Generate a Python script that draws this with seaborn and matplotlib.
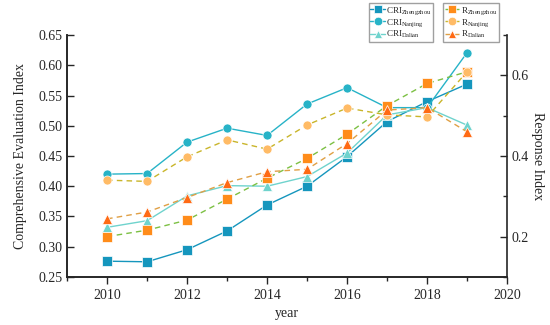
import matplotlib
matplotlib.use("Agg")
import matplotlib.pyplot as plt
import seaborn as sns
from matplotlib.ticker import MultipleLocator

# values
years = [2010, 2011, 2012, 2013, 2014, 2015, 2016, 2017, 2018, 2019]
cri_zhengzhou = [0.276, 0.275, 0.295, 0.326, 0.369, 0.400, 0.449, 0.507, 0.540, 0.569]
cri_nanjing = [0.420, 0.421, 0.473, 0.496, 0.484, 0.536, 0.563, 0.530, 0.530, 0.621]
cri_dalian = [0.332, 0.343, 0.384, 0.401, 0.400, 0.416, 0.455, 0.518, 0.530, 0.501]
r_zhengzhou = [0.200, 0.216, 0.241, 0.293, 0.345, 0.394, 0.454, 0.525, 0.580, 0.609]
r_nanjing = [0.340, 0.337, 0.398, 0.440, 0.417, 0.477, 0.519, 0.502, 0.497, 0.609]
r_dalian = [0.244, 0.261, 0.297, 0.334, 0.361, 0.367, 0.431, 0.514, 0.520, 0.460]

sns.set_style("ticks")
plt.rcParams["font.family"] = ["Liberation Serif", "DejaVu Serif"]
plt.rcParams["mathtext.default"] = "regular"

fig = plt.figure(figsize=(5.5, 3.25), dpi=100)
ax = fig.add_axes([0.122, 0.148, 0.8, 0.744])
ax2 = ax.twinx()

# CRI series, solid lines on the left axis
cri = [
    (cri_zhengzhou, "CRI$_{Zhengzhou}$", "#1596bd", "s"),
    (cri_nanjing, "CRI$_{Nanjing}$", "#27b3c7", "o"),
    (cri_dalian, "CRI$_{Dalian}$", "#6fd3cd", "^"),
]
for vals, name, col, mk in cri:
    sns.lineplot(x=years, y=vals, ax=ax, color=col, marker=mk, markersize=6.5,
                 markeredgecolor="white", markeredgewidth=0.5, linewidth=1.0,
                 label=name, legend=False)

# response index series, dashed lines on the right axis
resp = [
    (r_zhengzhou, "R$_{Zhengzhou}$", "#ff8c1a", "#7cc043", "s"),
    (r_nanjing, "R$_{Nanjing}$", "#ffbb66", "#c9b52a", "o"),
    (r_dalian, "R$_{Dalian}$", "#ff6a14", "#e0a045", "^"),
]
for vals, name, mcol, lcol, mk in resp:
    sns.lineplot(x=years, y=vals, ax=ax2, color=lcol, marker=mk, markersize=6.5,
                 markerfacecolor=mcol, markeredgecolor="white", markeredgewidth=0.5,
                 linewidth=1.0, linestyle=(0, (4, 3)), label=name, legend=False)

ax.set_xlim(2009, 2020)
ax.set_ylim(0.25, 0.65)
ax2.set_ylim(0.1, 0.7)

ax.xaxis.set_major_locator(MultipleLocator(2))
ax.xaxis.set_minor_locator(MultipleLocator(1))
ax.yaxis.set_major_locator(MultipleLocator(0.05))
ax.yaxis.set_major_formatter(matplotlib.ticker.FormatStrFormatter("%.2f"))
ax2.yaxis.set_major_locator(MultipleLocator(0.2))
ax2.yaxis.set_minor_locator(MultipleLocator(0.1))
ax2.yaxis.set_major_formatter(matplotlib.ticker.FormatStrFormatter("%.1f"))

ax.tick_params(axis="x", which="major", direction="out", length=5, width=1, labelsize=10)
ax.tick_params(axis="x", which="minor", direction="out", length=3, width=1)
ax.tick_params(axis="y", direction="in", length=5, width=1, labelsize=10)
ax2.tick_params(axis="y", which="major", direction="in", length=5, width=1, labelsize=10)
ax2.tick_params(axis="y", which="minor", direction="in", length=3, width=1)

for a in (ax, ax2):
    a.spines["top"].set_visible(False)
    for s in ("left", "right", "bottom"):
        a.spines[s].set_linewidth(1.2)
ax.spines["right"].set_visible(False)

ax.set_xlabel("year", fontsize=10)
ax.set_ylabel("Comprehensive Evaluation Index", fontsize=10, labelpad=8)
ax2.set_ylabel("Response Index", fontsize=10, rotation=-90, labelpad=11)

h1, l1 = ax.get_legend_handles_labels()
h2, l2 = ax2.get_legend_handles_labels()
leg_kw = dict(fontsize=6.5, frameon=True, fancybox=False, edgecolor="#888888",
              handlelength=1.6, handletextpad=0.15, borderpad=0.2,
              labelspacing=0.05, borderaxespad=0, markerscale=0.95)
leg1 = fig.legend(h1, l1, loc="upper right", bbox_to_anchor=(0.788, 0.991), **leg_kw)
leg2 = fig.legend(h2, l2, loc="upper right", bbox_to_anchor=(0.907, 0.991), **leg_kw)

fig.savefig("out.png", dpi=100)
